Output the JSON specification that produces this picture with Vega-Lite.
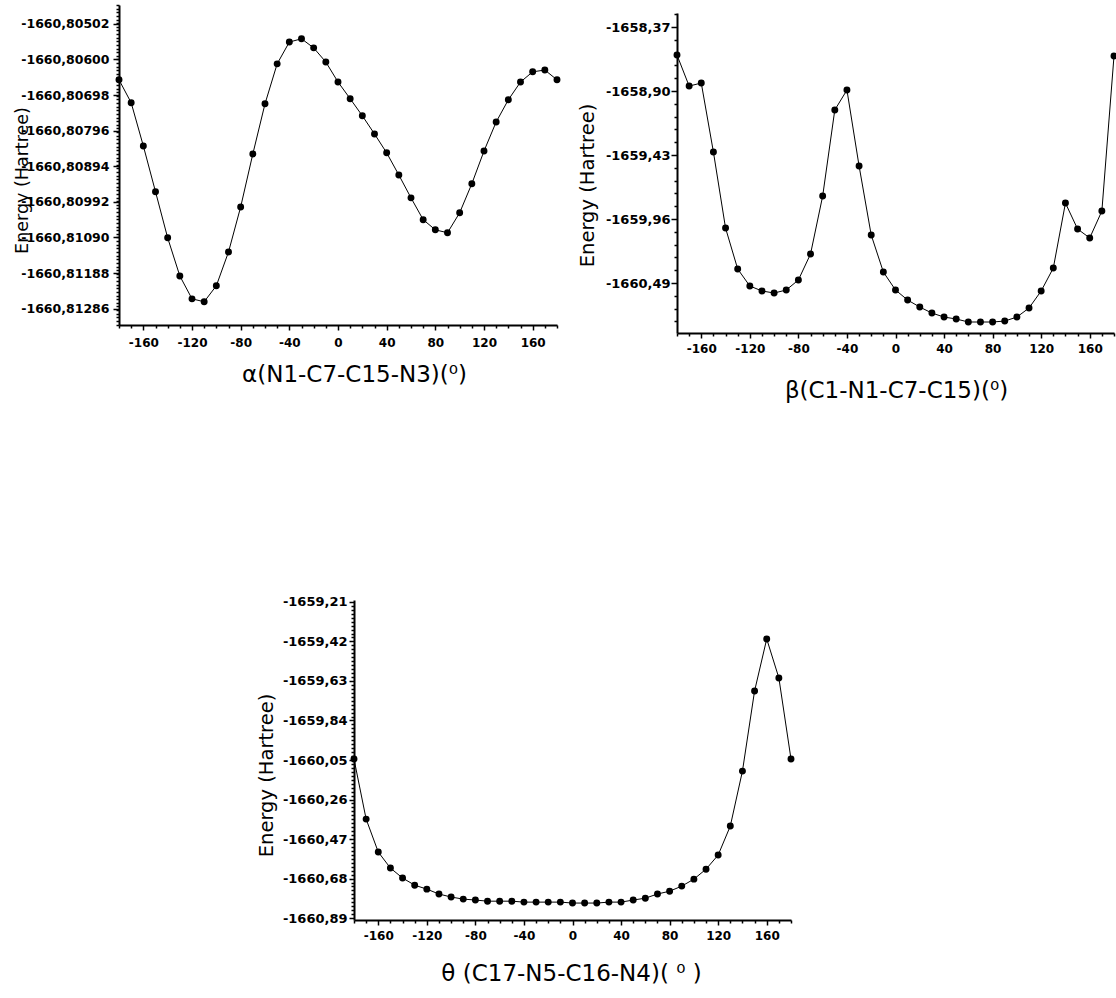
{
  "$schema": "https://vega.github.io/schema/vega-lite/v6.json",
  "width": 1116,
  "height": 998,
  "autosize": "none",
  "padding": 0,
  "background": "white",
  "config": {
    "view": {"stroke": null},
    "axis": {
      "domainColor": "black",
      "domainWidth": 2,
      "tickColor": "black",
      "tickWidth": 1.5,
      "grid": false,
      "labelFont": "DejaVu Sans",
      "labelFontWeight": "bold",
      "labelColor": "black",
      "titleFont": "DejaVu Sans",
      "titleFontWeight": "normal",
      "titleColor": "black",
      "labelOverlap": false,
      "labelFlush": false
    }
  },
  "datasets": {
    "alpha": [
      {"angle": -180, "energy": -1660.80656}, {"angle": -170, "energy": -1660.80719}, {"angle": -160, "energy": -1660.80838},
      {"angle": -150, "energy": -1660.80964}, {"angle": -140, "energy": -1660.81091}, {"angle": -130, "energy": -1660.81196},
      {"angle": -120, "energy": -1660.81259}, {"angle": -110, "energy": -1660.81267}, {"angle": -100, "energy": -1660.81223},
      {"angle": -90, "energy": -1660.8113}, {"angle": -80, "energy": -1660.81006}, {"angle": -70, "energy": -1660.8086},
      {"angle": -60, "energy": -1660.80722}, {"angle": -50, "energy": -1660.80612}, {"angle": -40, "energy": -1660.80552},
      {"angle": -30, "energy": -1660.80543}, {"angle": -20, "energy": -1660.80568}, {"angle": -10, "energy": -1660.80607},
      {"angle": 0, "energy": -1660.80662}, {"angle": 10, "energy": -1660.80708}, {"angle": 20, "energy": -1660.80755},
      {"angle": 30, "energy": -1660.80805}, {"angle": 40, "energy": -1660.80857}, {"angle": 50, "energy": -1660.80918},
      {"angle": 60, "energy": -1660.80981}, {"angle": 70, "energy": -1660.81041}, {"angle": 80, "energy": -1660.81069},
      {"angle": 90, "energy": -1660.81077}, {"angle": 100, "energy": -1660.81022}, {"angle": 110, "energy": -1660.80942},
      {"angle": 120, "energy": -1660.80852}, {"angle": 130, "energy": -1660.80772}, {"angle": 140, "energy": -1660.80711},
      {"angle": 150, "energy": -1660.80662}, {"angle": 160, "energy": -1660.80634}, {"angle": 170, "energy": -1660.80629},
      {"angle": 180, "energy": -1660.80656}
    ],
    "beta": [
      {"angle": -180, "energy": -1658.602}, {"angle": -170, "energy": -1658.859}, {"angle": -160, "energy": -1658.834},
      {"angle": -150, "energy": -1659.405}, {"angle": -140, "energy": -1660.035}, {"angle": -130, "energy": -1660.374},
      {"angle": -120, "energy": -1660.515}, {"angle": -110, "energy": -1660.556}, {"angle": -100, "energy": -1660.573},
      {"angle": -90, "energy": -1660.548}, {"angle": -80, "energy": -1660.465}, {"angle": -70, "energy": -1660.25},
      {"angle": -60, "energy": -1659.77}, {"angle": -50, "energy": -1659.057}, {"angle": -40, "energy": -1658.892},
      {"angle": -30, "energy": -1659.521}, {"angle": -20, "energy": -1660.093}, {"angle": -10, "energy": -1660.399},
      {"angle": 0, "energy": -1660.548}, {"angle": 10, "energy": -1660.631}, {"angle": 20, "energy": -1660.689},
      {"angle": 30, "energy": -1660.739}, {"angle": 40, "energy": -1660.772}, {"angle": 50, "energy": -1660.788},
      {"angle": 60, "energy": -1660.813}, {"angle": 70, "energy": -1660.813}, {"angle": 80, "energy": -1660.813},
      {"angle": 90, "energy": -1660.805}, {"angle": 100, "energy": -1660.772}, {"angle": 110, "energy": -1660.697},
      {"angle": 120, "energy": -1660.556}, {"angle": 130, "energy": -1660.366}, {"angle": 140, "energy": -1659.828},
      {"angle": 150, "energy": -1660.043}, {"angle": 160, "energy": -1660.117}, {"angle": 170, "energy": -1659.894},
      {"angle": 180, "energy": -1658.61}
    ],
    "theta": [
      {"angle": -180, "energy": -1660.045}, {"angle": -170, "energy": -1660.364}, {"angle": -160, "energy": -1660.539},
      {"angle": -150, "energy": -1660.624}, {"angle": -140, "energy": -1660.677}, {"angle": -130, "energy": -1660.715},
      {"angle": -120, "energy": -1660.736}, {"angle": -110, "energy": -1660.762}, {"angle": -100, "energy": -1660.778},
      {"angle": -90, "energy": -1660.789}, {"angle": -80, "energy": -1660.794}, {"angle": -70, "energy": -1660.8},
      {"angle": -60, "energy": -1660.8}, {"angle": -50, "energy": -1660.8}, {"angle": -40, "energy": -1660.805},
      {"angle": -30, "energy": -1660.805}, {"angle": -20, "energy": -1660.805}, {"angle": -10, "energy": -1660.805},
      {"angle": 0, "energy": -1660.81}, {"angle": 10, "energy": -1660.81}, {"angle": 20, "energy": -1660.81},
      {"angle": 30, "energy": -1660.805}, {"angle": 40, "energy": -1660.805}, {"angle": 50, "energy": -1660.794},
      {"angle": 60, "energy": -1660.784}, {"angle": 70, "energy": -1660.762}, {"angle": 80, "energy": -1660.747},
      {"angle": 90, "energy": -1660.72}, {"angle": 100, "energy": -1660.683}, {"angle": 110, "energy": -1660.63},
      {"angle": 120, "energy": -1660.555}, {"angle": 130, "energy": -1660.401}, {"angle": 140, "energy": -1660.109},
      {"angle": 150, "energy": -1659.683}, {"angle": 160, "energy": -1659.407}, {"angle": 170, "energy": -1659.614},
      {"angle": 180, "energy": -1660.045}
    ]
  },
  "layer": [
    {
      "data": {"name": "alpha"},
      "mark": {"type": "line", "color": "black", "strokeWidth": 1, "point": {"filled": true, "color": "black", "size": 48, "opacity": 1}},
      "encoding": {
        "x": {"field": "angle", "type": "quantitative",
          "scale": {"domain": [-180, 180], "range": [119, 557], "nice": false, "zero": false},
          "axis": {"orient": "bottom", "offset": -673, "values": [-160, -120, -80, -40, 0, 40, 80, 120, 160],
            "tickSize": 5, "labelPadding": 7, "labelFontSize": 12,
            "labelExpr": "replace(datum.label, '\u2212', '-')",
            "title": "α(N1-C7-C15-N3)(⁰)", "titleFontSize": 23, "titleX": 354, "titleY": 56, "titleAlign": "center", "titleBaseline": "alphabetic"}},
        "y": {"field": "energy", "type": "quantitative",
          "scale": {"domain": [-1660.81331, -1660.8045], "range": [325, 5], "nice": false, "zero": false},
          "axis": {"orient": "left", "offset": -119,
            "values": [-1660.80502, -1660.806, -1660.80698, -1660.80796, -1660.80894, -1660.80992, -1660.8109, -1660.81188, -1660.81286],
            "tickSize": 6, "labelPadding": 4, "labelFontSize": 12.5,
            "labelExpr": "replace(replace(format(datum.value, '.5f'), '.', ','), '\u2212', '-')",
            "title": "Energy (Hartree)", "titleFontSize": 17.5, "titleX": -92, "titleY": 180, "titleAngle": 270, "titleAlign": "center", "titleBaseline": "alphabetic"}}
      }
    },
    {
      "data": {"name": "alpha"},
      "mark": {"type": "point", "opacity": 0},
      "encoding": {
        "x": {"field": "angle", "type": "quantitative",
          "scale": {"domain": [-180, 180], "range": [119, 557], "nice": false, "zero": false},
          "axis": {"orient": "bottom", "offset": -673, "values": [-180, -170, -150, -140, -130, -110, -100, -90, -70, -60, -50, -30, -20, -10, 10, 20, 30, 50, 60, 70, 90, 100, 110, 130, 140, 150, 170, 180],
            "tickSize": 3, "labels": false, "domain": false, "title": null}},
        "y": {"field": "energy", "type": "quantitative",
          "scale": {"domain": [-1660.81331, -1660.8045], "range": [325, 5], "nice": false, "zero": false},
          "axis": {"orient": "left", "offset": -119, "tickCount": 88, "tickSize": 3, "labels": false, "domain": false, "title": null}}
      }
    },
    {
      "data": {"name": "beta"},
      "mark": {"type": "line", "color": "black", "strokeWidth": 1, "point": {"filled": true, "color": "black", "size": 48, "opacity": 1}},
      "encoding": {
        "x": {"field": "angle", "type": "quantitative",
          "scale": {"domain": [-180, 180], "range": [677, 1114], "nice": false, "zero": false},
          "axis": {"orient": "bottom", "offset": -665, "values": [-160, -120, -80, -40, 0, 40, 80, 120, 160],
            "tickSize": 5, "labelPadding": 5, "labelFontSize": 12,
            "labelExpr": "replace(datum.label, '\u2212', '-')",
            "title": "β(C1-N1-C7-C15)(⁰)", "titleFontSize": 23, "titleX": 896, "titleY": 64, "titleAlign": "center", "titleBaseline": "alphabetic"}},
        "y": {"field": "energy", "type": "quantitative",
          "scale": {"domain": [-1660.904, -1658.254], "range": [333, 13], "nice": false, "zero": false},
          "axis": {"orient": "left", "offset": -677,
            "values": [-1658.37, -1658.9, -1659.43, -1659.96, -1660.49],
            "tickSize": 6, "labelPadding": 1, "labelFontSize": 13,
            "labelExpr": "replace(replace(format(datum.value, '.2f'), '.', ','), '\u2212', '-')",
            "title": "Energy (Hartree)", "titleFontSize": 19.5, "titleX": -84, "titleY": 185, "titleAngle": 270, "titleAlign": "center", "titleBaseline": "alphabetic"}}
      }
    },
    {
      "data": {"name": "beta"},
      "mark": {"type": "point", "opacity": 0},
      "encoding": {
        "x": {"field": "angle", "type": "quantitative",
          "scale": {"domain": [-180, 180], "range": [677, 1114], "nice": false, "zero": false},
          "axis": {"orient": "bottom", "offset": -665, "values": [-180, -170, -150, -140, -130, -110, -100, -90, -70, -60, -50, -30, -20, -10, 10, 20, 30, 50, 60, 70, 90, 100, 110, 130, 140, 150, 170, 180],
            "tickSize": 3, "labels": false, "domain": false, "title": null}},
        "y": {"field": "energy", "type": "quantitative",
          "scale": {"domain": [-1660.904, -1658.254], "range": [333, 13], "nice": false, "zero": false},
          "axis": {"orient": "left", "offset": -677,
            "values": [-1658.264, -1658.476, -1658.582, -1658.688, -1658.794, -1659.006, -1659.112, -1659.218, -1659.324, -1659.536, -1659.642, -1659.748, -1659.854, -1660.066, -1660.172, -1660.278, -1660.384, -1660.596, -1660.702, -1660.808],
            "tickSize": 3, "labels": false, "domain": false, "title": null}}
      }
    },
    {
      "data": {"name": "theta"},
      "mark": {"type": "line", "color": "black", "strokeWidth": 1, "point": {"filled": true, "color": "black", "size": 48, "opacity": 1}},
      "encoding": {
        "x": {"field": "angle", "type": "quantitative",
          "scale": {"domain": [-180, 180], "range": [354, 791], "nice": false, "zero": false},
          "axis": {"orient": "bottom", "offset": -78, "values": [-160, -120, -80, -40, 0, 40, 80, 120, 160],
            "tickSize": 5, "labelPadding": 5, "labelFontSize": 12,
            "labelExpr": "replace(datum.label, '\u2212', '-')",
            "title": "θ (C17-N5-C16-N4)( ⁰ )", "titleFontSize": 23, "titleX": 571, "titleY": 60, "titleAlign": "center", "titleBaseline": "alphabetic"}},
        "y": {"field": "energy", "type": "quantitative",
          "scale": {"domain": [-1660.9, -1659.2], "range": [920, 600], "nice": false, "zero": false},
          "axis": {"orient": "left", "offset": -354,
            "values": [-1659.21, -1659.42, -1659.63, -1659.84, -1660.05, -1660.26, -1660.47, -1660.68, -1660.89],
            "tickSize": 5, "labelPadding": 2, "labelFontSize": 13,
            "labelExpr": "replace(replace(format(datum.value, '.2f'), '.', ','), '\u2212', '-')",
            "title": "Energy (Hartree)", "titleFontSize": 19.5, "titleX": -82, "titleY": 775, "titleAngle": 270, "titleAlign": "center", "titleBaseline": "alphabetic"}}
      }
    },
    {
      "data": {"name": "theta"},
      "mark": {"type": "point", "opacity": 0},
      "encoding": {
        "x": {"field": "angle", "type": "quantitative",
          "scale": {"domain": [-180, 180], "range": [354, 791], "nice": false, "zero": false},
          "axis": {"orient": "bottom", "offset": -78, "values": [-180, -170, -150, -140, -130, -110, -100, -90, -70, -60, -50, -30, -20, -10, 10, 20, 30, 50, 60, 70, 90, 100, 110, 130, 140, 150, 170, 180],
            "tickSize": 3, "labels": false, "domain": false, "title": null}},
        "y": {"field": "energy", "type": "quantitative",
          "scale": {"domain": [-1660.9, -1659.2], "range": [920, 600], "nice": false, "zero": false},
          "axis": {"orient": "left", "offset": -354,
            "values": [-1660.869, -1660.848, -1660.827, -1660.806, -1660.785, -1660.764, -1660.743, -1660.722, -1660.701, -1660.659, -1660.638, -1660.617, -1660.596, -1660.575, -1660.554, -1660.533, -1660.512, -1660.491, -1660.449, -1660.428, -1660.407, -1660.386, -1660.365, -1660.344, -1660.323, -1660.302, -1660.281, -1660.239, -1660.218, -1660.197, -1660.176, -1660.155, -1660.134, -1660.113, -1660.092, -1660.071, -1660.029, -1660.008, -1659.987, -1659.966, -1659.945, -1659.924, -1659.903, -1659.882, -1659.861, -1659.819, -1659.798, -1659.777, -1659.756, -1659.735, -1659.714, -1659.693, -1659.672, -1659.651, -1659.609, -1659.588, -1659.567, -1659.546, -1659.525, -1659.504, -1659.483, -1659.462, -1659.441, -1659.399, -1659.378, -1659.357, -1659.336, -1659.315, -1659.294, -1659.273, -1659.252, -1659.231],
            "tickSize": 3, "labels": false, "domain": false, "title": null}}
      }
    }
  ],
  "resolve": {
    "scale": {"x": "independent", "y": "independent"},
    "axis": {"x": "independent", "y": "independent"}
  }
}
